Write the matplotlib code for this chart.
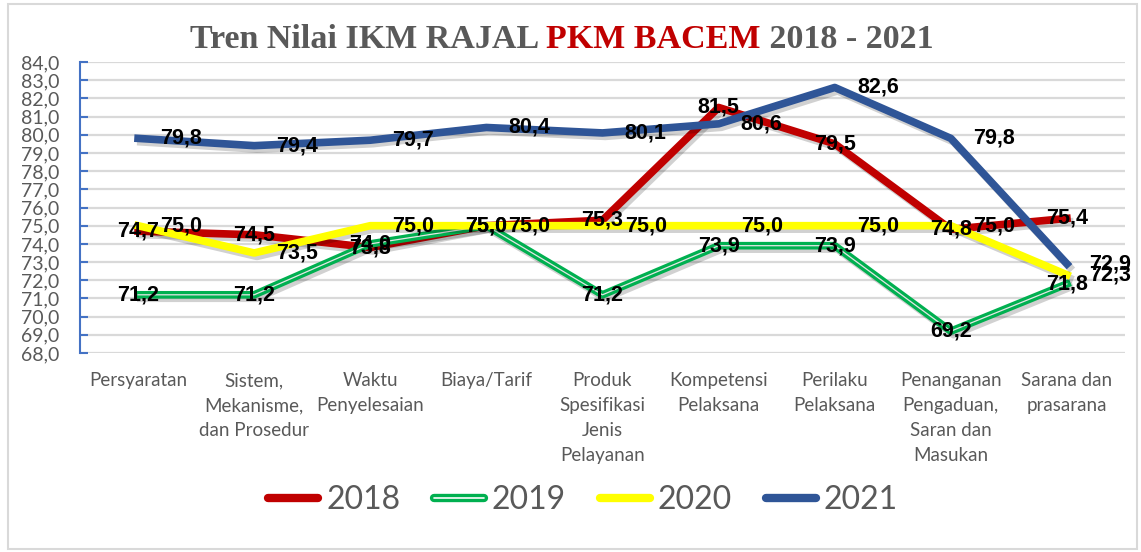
import matplotlib
matplotlib.use('Agg')
import matplotlib.pyplot as plt
import matplotlib.patheffects as pe
from matplotlib.lines import Line2D
from matplotlib.patches import Rectangle
from matplotlib.ticker import FuncFormatter, MultipleLocator
import numpy as np

categories = ['Persyaratan', 'Sistem,\nMekanisme,\ndan Prosedur', 'Waktu\nPenyelesaian',
              'Biaya/Tarif', 'Produk\nSpesifikasi\nJenis\nPelayanan', 'Kompetensi\nPelaksana',
              'Perilaku\nPelaksana', 'Penanganan\nPengaduan,\nSaran dan\nMasukan',
              'Sarana dan\nprasarana']
years = ['2018', '2019', '2020', '2021']
y2018 = [74.7, 74.5, 73.8, 75.0, 75.3, 81.5, 79.5, 74.8, 75.4]
y2019 = [71.2, 71.2, 74.0, 75.0, 71.2, 73.9, 73.9, 69.2, 71.8]
y2020 = [75.0, 73.5, 75.0, 75.0, 75.0, 75.0, 75.0, 75.0, 72.3]
y2021 = [79.8, 79.4, 79.7, 80.4, 80.1, 80.6, 82.6, 79.8, 72.9]

colors = ['#c00000', '#00b050', '#ffff00', '#2f5597']
label_pos = ['center', 'center', 'right', 'right']

W, H = 1141, 552
fig = plt.figure(figsize=(W / 100, H / 100), dpi=100)
ax = fig.add_axes([80 / W, 1 - 353 / H, 1045 / W, 291 / H])

grey = '#595959'
lab_font = ['Liberation Sans', 'DejaVu Sans']
cal = ['Lato', 'DejaVu Sans']
x = np.arange(len(categories))

for i, (vals, c) in enumerate(zip([y2018, y2019, y2020, y2021], colors)):
    shadow = pe.SimpleLineShadow(offset=(2, -2.5), shadow_color='k', alpha=0.18, linewidth=5.5)
    if years[i] == '2019':
        # double line: green outer with a thin light core
        ax.plot(x, vals, color='#e6e6e6', lw=0.9, zorder=3 + i,
                path_effects=[shadow, pe.Stroke(linewidth=5.5, foreground=c), pe.Normal()])
    else:
        ax.plot(x, vals, color=c, lw=5.5, zorder=3 + i,
                path_effects=[shadow, pe.Normal()])

# data labels
for vals, pos in zip([y2018, y2019, y2020, y2021], label_pos):
    for xi, v in zip(x, vals):
        txt = f"{v:.1f}".replace('.', ',')
        dx = 16 if pos == 'right' else 0
        ax.annotate(txt, (xi, v), xytext=(dx, 0), textcoords='offset points',
                    ha='left' if pos == 'right' else 'center', va='center',
                    fontsize=15.5, fontweight='bold', family=lab_font, color='black',
                    zorder=10, annotation_clip=False)

ax.set_xlim(-0.5, len(categories) - 0.5)
ax.set_ylim(68, 84)
ax.yaxis.set_major_locator(MultipleLocator(1))
ax.yaxis.set_major_formatter(FuncFormatter(lambda v, p: f"{v:.1f}".replace('.', ',')))
ax.grid(axis='y', color='#d9d9d9', lw=1.6, zorder=0)
ax.set_axisbelow(True)
for s in ['top', 'right', 'bottom']:
    ax.spines[s].set_visible(False)
ax.spines['left'].set_color('#4472c4')
ax.spines['left'].set_linewidth(1.5)
ax.tick_params(axis='y', direction='in', length=6, width=1.5, color='#4472c4',
               labelcolor=grey, labelsize=14, pad=15)
ax.tick_params(axis='x', length=0, labelcolor=grey, labelsize=13.5, pad=14)
ax.set_xticks(x)
ax.set_xticklabels(categories, linespacing=1.55)
for t in ax.get_yticklabels() + ax.get_xticklabels():
    t.set_family(cal)

# legend
handles = []
for yr, c in zip(years, colors):
    if yr == '2019':
        h = Line2D([], [], color='white', lw=1.2, solid_capstyle='round',
                   path_effects=[pe.Stroke(linewidth=6, foreground=c, capstyle='round'), pe.Normal()])
    else:
        h = Line2D([], [], color=c, lw=6, solid_capstyle='round')
    handles.append(h)
fig.legend(handles, years, loc='center', bbox_to_anchor=(583 / W, 1 - 500 / H), ncol=4,
           frameon=False, handlelength=1.56, handletextpad=0.25, columnspacing=1.06,
           prop={'family': cal, 'size': 23}, labelcolor=grey)

# title in three colours
parts = [('Tren Nilai IKM RAJAL ', grey), ('PKM BACEM', '#c00000'), (' 2018 - 2021', grey)]
renderer = fig.canvas.get_renderer()
texts = []
for s, c in parts:
    t = fig.text(0, 1 - 48 / H, s, color=c, fontsize=24.5, fontweight='bold',
                 family=['Liberation Serif', 'DejaVu Serif'], ha='left', va='baseline')
    texts.append(t)
widths = [t.get_window_extent(renderer).width for t in texts]
x0 = 562 - sum(widths) / 2
for t, w in zip(texts, widths):
    t.set_x(x0 / W)
    x0 += w

fig.patches.append(Rectangle((8 / W, 3 / H), 1129 / W, 545 / H, transform=fig.transFigure,
                             fill=False, ec='#d9d9d9', lw=1.5))

fig.savefig('out.png', dpi=100)
